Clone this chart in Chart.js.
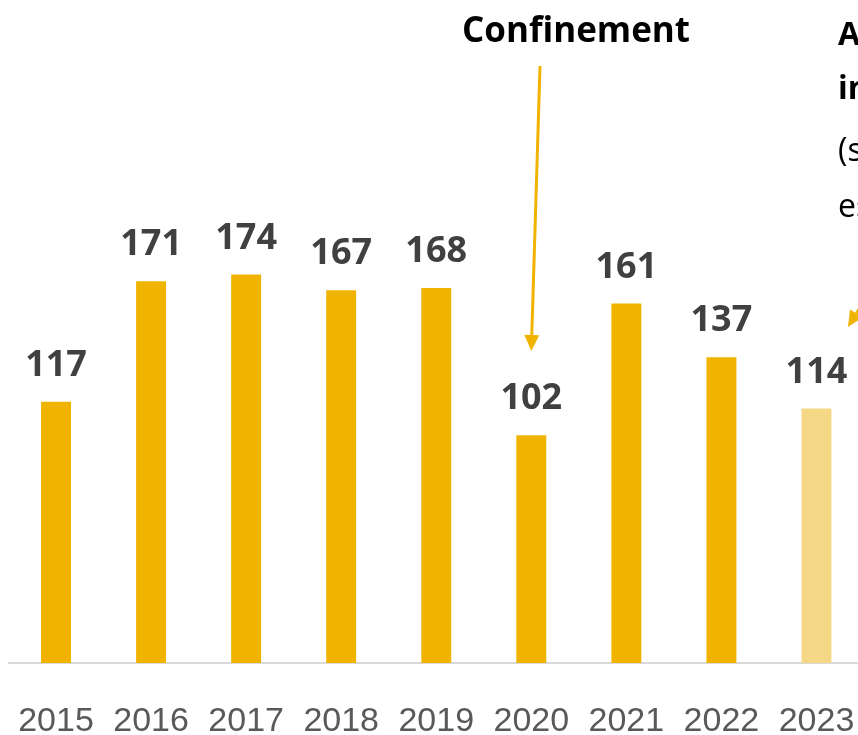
<!DOCTYPE html>
<html lang="fr">
<head>
<meta charset="utf-8">
<script src="https://cdn.jsdelivr.net/npm/chart.js@4.4.1/dist/chart.umd.min.js"></script>
<style>
  html, body { margin: 0; padding: 0; background: #ffffff; overflow: hidden; }
  #wrap { position: relative; width: 864px; height: 735px; }
</style>
</head>
<body>
<div id="wrap"><canvas id="barChart" width="864" height="735"></canvas></div>
<script>
const years = ["2015", "2016", "2017", "2018", "2019", "2020", "2021", "2022", "2023"];
const values = [117, 171, 174, 167, 168, 102, 161, 137, 114];
const barColors = ["#F0B400", "#F0B400", "#F0B400", "#F0B400", "#F0B400", "#F0B400", "#F0B400", "#F0B400", "#F5D886"];
const noteLines = [
  { text: "Année", bold: true },
  { text: "incomplète", bold: true },
  { text: "(sur 9 mois", bold: false },
  { text: "estimés)", bold: false },
];

// flèche simple : trait + pointe pleine
function drawArrow(ctx, x1, y1, x2, y2, color) {
  const ang = Math.atan2(y2 - y1, x2 - x1);
  const headLen = 16, headW = 7.5;
  const bx = x2 - headLen * Math.cos(ang), by = y2 - headLen * Math.sin(ang);
  ctx.save();
  ctx.strokeStyle = color;
  ctx.fillStyle = color;
  ctx.lineWidth = 3;
  ctx.beginPath();
  ctx.moveTo(x1, y1);
  ctx.lineTo(bx, by);
  ctx.stroke();
  ctx.beginPath();
  ctx.moveTo(x2, y2);
  ctx.lineTo(bx + headW * Math.sin(ang), by - headW * Math.cos(ang));
  ctx.lineTo(bx - headW * Math.sin(ang), by + headW * Math.cos(ang));
  ctx.closePath();
  ctx.fill();
  ctx.restore();
}

const annotations = {
  id: "annotations",
  afterDatasetsDraw(chart) {
    const ctx = chart.ctx;
    const meta = chart.getDatasetMeta(0);

    // valeurs au-dessus des barres
    ctx.save();
    ctx.font = "bold 36px 'Open Sans'";
    ctx.fillStyle = "#404040";
    ctx.textAlign = "center";
    ctx.textBaseline = "alphabetic";
    meta.data.forEach((bar, i) => {
      ctx.fillText(String(values[i]), bar.x, bar.y - 26);
    });
    ctx.restore();

    // Confinement
    const bar2020 = meta.data[5];
    ctx.save();
    ctx.font = "bold 35px 'Open Sans'";
    ctx.fillStyle = "#000000";
    ctx.textAlign = "center";
    ctx.fillText("Confinement", 576, 42);
    ctx.restore();
    drawArrow(ctx, 540, 66, bar2020.x, 351, "#F0B400");

    // note 2023 (coupée à droite)
    ctx.save();
    ctx.fillStyle = "#000000";
    ctx.textAlign = "left";
    ctx.textBaseline = "middle";
    const ys = [36, 90, 152, 208];
    noteLines.forEach((l, i) => {
      ctx.font = (l.bold ? "bold " : "") + "32px 'Open Sans'";
      ctx.fillText(l.text, 838, ys[i]);
    });
    ctx.restore();
    drawArrow(ctx, 905, 235, 848, 327, "#F0B400");
  },
};

const ctx = document.getElementById("barChart");
new Chart(ctx, {
  type: "bar",
  data: {
    labels: years,
    datasets: [
      {
        data: values,
        backgroundColor: barColors,
        borderWidth: 0,
        categoryPercentage: 1,
        barPercentage: 0.315,
      },
    ],
  },
  options: {
    responsive: false,
    animation: false,
    layout: { padding: { left: 8.5, right: 0, top: 0, bottom: 0 } },
    plugins: {
      legend: { display: false },
      tooltip: { enabled: false },
    },
    scales: {
      x: {
        grid: { display: false, drawTicks: false },
        border: { display: true, color: "#D9D9D9", width: 2 },
        ticks: {
          color: "#595959",
          font: { family: "'Liberation Sans', sans-serif", size: 34 },
          padding: 38,
          maxRotation: 0,
          autoSkip: false,
        },
        afterFit(scale) {
          scale.paddingLeft = 0;
          scale.paddingRight = 0;
          scale.height = 72;
        },
      },
      y: {
        display: false,
        min: 0,
        max: 297,
      },
    },
  },
  plugins: [annotations],
});
</script>
</body>
</html>
